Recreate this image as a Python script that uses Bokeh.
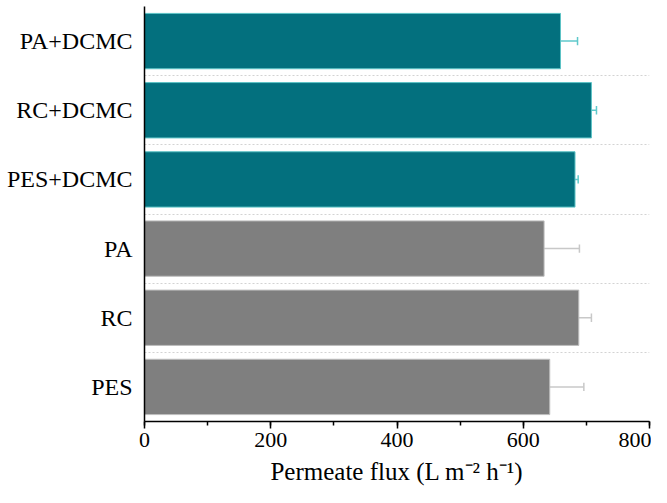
from bokeh.plotting import figure
from bokeh.models import Range1d, FixedTicker, SingleIntervalTicker, ColumnDataSource
from bokeh.embed import file_html
from bokeh.resources import INLINE

# Data (top to bottom as shown)
categories = ["PA+DCMC", "RC+DCMC", "PES+DCMC", "PA", "RC", "PES"]
flux = [659, 708, 682, 633, 688, 642]
flux_err = [27, 8, 5, 56, 20, 54]
groups = ["DCMC", "DCMC", "DCMC", "plain", "plain", "plain"]
x_title = "Permeate flux (L m\u207b\u00b2 h\u207b\u00b9)"

bar_colors = {"DCMC": "#03707E", "plain": "#7F7F7F"}
edge_colors = {"DCMC": "#5CC3C6", "plain": "#BEBEBE"}
err_colors = {"DCMC": "#5FC9CB", "plain": "#C8C8C8"}

n = len(categories)
ypos = [n - i - 0.5 for i in range(n)]

src = ColumnDataSource(dict(
    y=ypos,
    v=flux,
    lo=[v - e for v, e in zip(flux, flux_err)],
    hi=[v + e for v, e in zip(flux, flux_err)],
    cap_lo=[y - 0.06 for y in ypos],
    cap_hi=[y + 0.06 for y in ypos],
    fill=[bar_colors[g] for g in groups],
    edge=[edge_colors[g] for g in groups],
    err=[err_colors[g] for g in groups],
))

FONT = "Liberation Serif"

p = figure(width=651, height=487, output_backend="svg", toolbar_location=None,
           x_range=Range1d(0, 800), y_range=Range1d(0, n),
           min_border_left=144, min_border_right=2, min_border_top=6, min_border_bottom=60)
p.outline_line_color = None
p.background_fill_color = "white"

# grid lines between categories
p.xgrid.grid_line_color = None
p.ygrid.ticker = FixedTicker(ticks=list(range(1, n)))
p.ygrid.grid_line_color = "#D3D3D3"
p.ygrid.grid_line_dash = "2 2"
p.ygrid.grid_line_width = 1

# error bars (drawn first; bars cover the lower half)
p.segment(x0="lo", x1="hi", y0="y", y1="y", source=src, line_color="err", line_width=1.5)
p.segment(x0="hi", x1="hi", y0="cap_lo", y1="cap_hi", source=src, line_color="err", line_width=1.5)

p.hbar(y="y", left=0, right="v", height=0.8, source=src,
       fill_color="fill", line_color="edge", line_width=1)

# x axis
p.xaxis.ticker = SingleIntervalTicker(interval=200, num_minor_ticks=2)
p.xaxis.axis_label = x_title
p.xaxis.axis_label_text_font = FONT
p.xaxis.axis_label_text_font_style = "normal"
p.xaxis.axis_label_text_font_size = "25px"
p.xaxis.axis_label_text_line_height = 1.0
p.xaxis.axis_label_text_color = "black"
p.xaxis.axis_label_standoff = 8
p.xaxis.major_label_text_font = FONT
p.xaxis.major_label_text_font_size = "22px"
p.xaxis.major_label_text_line_height = 1.0
p.xaxis.major_label_text_color = "black"
p.xaxis.major_label_standoff = 4
p.xaxis.axis_line_color = "black"
p.xaxis.axis_line_width = 1.5
p.xaxis.major_tick_line_color = "black"
p.xaxis.major_tick_line_width = 1.5
p.xaxis.major_tick_out = 7
p.xaxis.major_tick_in = 0
p.xaxis.minor_tick_line_color = "black"
p.xaxis.minor_tick_line_width = 1.5
p.xaxis.minor_tick_out = 4
p.xaxis.minor_tick_in = 0

# y axis
p.yaxis.ticker = FixedTicker(ticks=ypos)
p.yaxis.major_label_overrides = {y: c for y, c in zip(ypos, categories)}
p.yaxis.major_label_text_font = FONT
p.yaxis.major_label_text_font_size = "24px"
p.yaxis.major_label_text_color = "black"
p.yaxis.major_label_standoff = 6
p.yaxis.axis_line_color = "black"
p.yaxis.axis_line_width = 1.5
p.yaxis.major_tick_line_color = None
p.yaxis.minor_tick_line_color = None

open("out.html", "w").write(file_html(p, INLINE))
